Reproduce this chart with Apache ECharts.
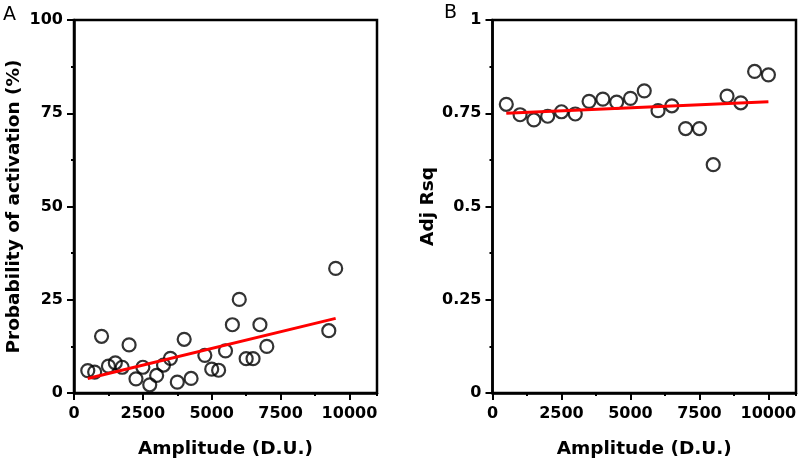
<!DOCTYPE html>
<html>
<head>
<meta charset="utf-8">
<script src="https://cdn.jsdelivr.net/npm/echarts@6/dist/echarts.min.js"></script>
<style>
html,body{margin:0;padding:0;background:#fff;}
#chart{width:800px;height:464px;}
</style>
</head>
<body>
<div id="chart"></div>
<script>
// Panel A: Probability of activation (%) vs Amplitude
const ampA = [500, 750, 1000, 1250, 1500, 1750, 2000, 2250, 2500, 2750, 3000, 3250, 3500, 3750, 4000, 4250, 4750, 5000, 5250, 5500, 5750, 6000, 6250, 6500, 6750, 7000, 9250, 9500];
const probA = [6.0, 5.6, 15.2, 7.2, 8.1, 6.9, 12.9, 3.8, 6.9, 2.2, 4.7, 7.5, 9.3, 2.9, 14.4, 3.9, 10.1, 6.4, 6.1, 11.3, 18.3, 25.1, 9.2, 9.2, 18.3, 12.5, 16.7, 33.4];
const fitAx = [500, 9500];
const fitAy = [3.9, 20.0];

// Panel B: Adj Rsq vs Amplitude
const ampB = [500, 1000, 1500, 2000, 2500, 3000, 3500, 4000, 4500, 5000, 5500, 6000, 6500, 7000, 7500, 8000, 8500, 9000, 9500, 10000];
const rsqB = [0.774, 0.746, 0.732, 0.742, 0.754, 0.748, 0.782, 0.788, 0.780, 0.790, 0.810, 0.757, 0.770, 0.709, 0.709, 0.612, 0.796, 0.778, 0.862, 0.853];
const fitBx = [500, 10000];
const fitBy = [0.750, 0.781];

const xMajor = [0, 2500, 5000, 7500, 10000];

const FONT = 'DejaVu Sans';
const pair = (xs, ys) => xs.map((x, i) => [x, ys[i]]);

function mainX(gridIndex) {
  return {
    type: 'value', gridIndex, min: 0, max: 11000, interval: 2500, position: 'bottom',
    name: 'Amplitude (D.U.)', nameLocation: 'middle', nameGap: 47,
    nameTextStyle: {fontFamily: FONT, fontWeight: 'bold', fontSize: 18.5, color: '#000'},
    axisLine: {show: true, onZero: false, lineStyle: {color: '#000', width: 2.5}},
    axisTick: {show: true, length: 7, lineStyle: {color: '#000', width: 2}, customValues: xMajor},
    axisLabel: {fontFamily: FONT, fontWeight: 'bold', fontSize: 16, color: '#000', margin: 13,
      customValues: xMajor, formatter: v => String(v)},
    splitLine: {show: false}
  };
}
function minorX(gridIndex) {
  return {
    type: 'value', gridIndex, min: 0, max: 11000, interval: 1250, position: 'bottom', offset: 0,
    axisLine: {show: false, onZero: false},
    axisTick: {show: true, length: 3, lineStyle: {color: '#000', width: 2}},
    axisLabel: {show: false},
    splitLine: {show: false}
  };
}
function mainY(gridIndex, max, interval, name, gap) {
  return {
    type: 'value', gridIndex, min: 0, max, interval,
    name, nameLocation: 'middle', nameGap: gap, nameRotate: 90,
    nameTextStyle: {fontFamily: FONT, fontWeight: 'bold', fontSize: 18.5, color: '#000'},
    axisLine: {show: true, onZero: false, lineStyle: {color: '#000', width: 2.5}},
    axisTick: {show: true, length: 7, lineStyle: {color: '#000', width: 2}},
    minorTick: {show: true, splitNumber: 2, length: 3, lineStyle: {color: '#000', width: 2}},
    axisLabel: {fontFamily: FONT, fontWeight: 'bold', fontSize: 16, color: '#000', margin: 11},
    splitLine: {show: false}, minorSplitLine: {show: false}
  };
}

const scatterStyle = {color: 'rgba(255,255,255,0)', borderColor: '#000', borderWidth: 2.2};

const option = {
  backgroundColor: '#fff',
  animation: false,
  grid: [
    {left: 74, top: 20, width: 303, height: 373, show: true, borderColor: '#000', borderWidth: 2.5, backgroundColor: 'transparent'},
    {left: 492.5, top: 20, width: 303.5, height: 373, show: true, borderColor: '#000', borderWidth: 2.5, backgroundColor: 'transparent'}
  ],
  xAxis: [minorX(0), minorX(1), mainX(0), mainX(1)],
  yAxis: [
    mainY(0, 100, 25, 'Probability of activation (%)', 50),
    mainY(1, 1, 0.25, 'Adj Rsq', 54)
  ],
  graphic: [
    {type: 'text', left: 3, top: 6, style: {text: 'A', fontFamily: FONT, fontSize: 19, fill: '#000'}},
    {type: 'text', left: 444, top: 4, style: {text: 'B', fontFamily: FONT, fontSize: 19, fill: '#000'}}
  ],
  series: [
    {type: 'scatter', xAxisIndex: 2, yAxisIndex: 0, data: pair(ampA, probA), symbol: 'circle', symbolSize: 13, itemStyle: scatterStyle, z: 2},
    {type: 'line', xAxisIndex: 2, yAxisIndex: 0, data: pair(fitAx, fitAy), showSymbol: false, symbol: 'none', lineStyle: {color: '#ff0000', width: 3}, z: 3},
    {type: 'scatter', xAxisIndex: 3, yAxisIndex: 1, data: pair(ampB, rsqB), symbol: 'circle', symbolSize: 13, itemStyle: scatterStyle, z: 2},
    {type: 'line', xAxisIndex: 3, yAxisIndex: 1, data: pair(fitBx, fitBy), showSymbol: false, symbol: 'none', lineStyle: {color: '#ff0000', width: 3}, z: 3}
  ]
};

const chart = echarts.init(document.getElementById('chart'), null, {renderer: 'canvas'});
chart.setOption(option);
</script>
</body>
</html>
